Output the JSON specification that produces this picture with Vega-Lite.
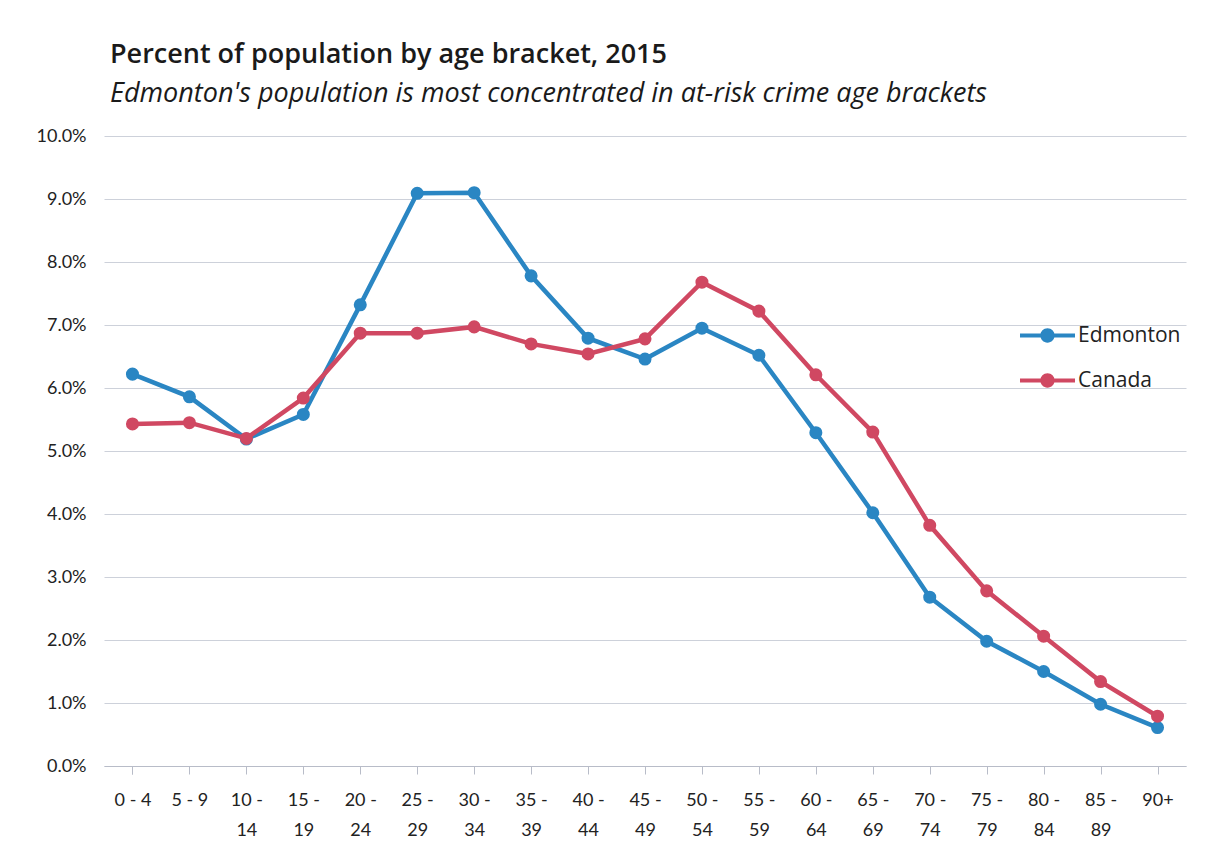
{
  "$schema": "https://vega.github.io/schema/vega-lite/v6.json",
  "autosize": {"type": "none"},
  "width": 1082,
  "height": 630,
  "padding": {"left": 104, "top": 136, "right": 26, "bottom": 86},
  "background": "white",
  "config": {
    "font": "Lato",
    "view": {"stroke": null}
  },
  "title": {
    "text": "Percent of population by age bracket, 2015",
    "subtitle": "Edmonton's population is  most concentrated in at-risk crime age brackets",
    "anchor": "start",
    "frame": "group",
    "dx": 6,
    "offset": 19,
    "font": "Open Sans",
    "fontSize": 27,
    "fontWeight": 600,
    "color": "#1a1a1a",
    "subtitleFont": "Open Sans",
    "subtitleFontSize": 27,
    "subtitleFontStyle": "italic",
    "subtitleColor": "#1a1a1a",
    "subtitlePadding": 12
  },
  "data": {
    "values": [
      {"age": "0 - 4", "region": "Edmonton", "share": 0.0622},
      {"age": "5 - 9", "region": "Edmonton", "share": 0.0586},
      {"age": "10 - 14", "region": "Edmonton", "share": 0.0519},
      {"age": "15 - 19", "region": "Edmonton", "share": 0.0558},
      {"age": "20 - 24", "region": "Edmonton", "share": 0.0732},
      {"age": "25 - 29", "region": "Edmonton", "share": 0.0909},
      {"age": "30 - 34", "region": "Edmonton", "share": 0.0910},
      {"age": "35 - 39", "region": "Edmonton", "share": 0.0778},
      {"age": "40 - 44", "region": "Edmonton", "share": 0.0679},
      {"age": "45 - 49", "region": "Edmonton", "share": 0.0646},
      {"age": "50 - 54", "region": "Edmonton", "share": 0.0695},
      {"age": "55 - 59", "region": "Edmonton", "share": 0.0652},
      {"age": "60 - 64", "region": "Edmonton", "share": 0.0529},
      {"age": "65 - 69", "region": "Edmonton", "share": 0.0402},
      {"age": "70 - 74", "region": "Edmonton", "share": 0.0268},
      {"age": "75 - 79", "region": "Edmonton", "share": 0.0198},
      {"age": "80 - 84", "region": "Edmonton", "share": 0.0150},
      {"age": "85 - 89", "region": "Edmonton", "share": 0.0098},
      {"age": "90+", "region": "Edmonton", "share": 0.0061},
      {"age": "0 - 4", "region": "Canada", "share": 0.0543},
      {"age": "5 - 9", "region": "Canada", "share": 0.0545},
      {"age": "10 - 14", "region": "Canada", "share": 0.0520},
      {"age": "15 - 19", "region": "Canada", "share": 0.0584},
      {"age": "20 - 24", "region": "Canada", "share": 0.0687},
      {"age": "25 - 29", "region": "Canada", "share": 0.0687},
      {"age": "30 - 34", "region": "Canada", "share": 0.0697},
      {"age": "35 - 39", "region": "Canada", "share": 0.0670},
      {"age": "40 - 44", "region": "Canada", "share": 0.0654},
      {"age": "45 - 49", "region": "Canada", "share": 0.0678},
      {"age": "50 - 54", "region": "Canada", "share": 0.0768},
      {"age": "55 - 59", "region": "Canada", "share": 0.0722},
      {"age": "60 - 64", "region": "Canada", "share": 0.0621},
      {"age": "65 - 69", "region": "Canada", "share": 0.0530},
      {"age": "70 - 74", "region": "Canada", "share": 0.0382},
      {"age": "75 - 79", "region": "Canada", "share": 0.0278},
      {"age": "80 - 84", "region": "Canada", "share": 0.0206},
      {"age": "85 - 89", "region": "Canada", "share": 0.0134},
      {"age": "90+", "region": "Canada", "share": 0.0079}
    ]
  },
  "encoding": {
    "x": {
      "field": "age",
      "type": "nominal",
      "sort": null,
      "scale": {"type": "point", "padding": 0.5},
      "axis": {
        "title": null,
        "labelAngle": 0,
        "labelFont": "Lato",
        "labelFontSize": 18,
        "labelColor": "#222222",
        "labelPadding": 17,
        "labelLineHeight": 30,
        "labelBaseline": "top",
        "labelExpr": "indexof(datum.label, ' - ') > 0 && length(datum.label) > 5 ? [split(datum.label, ' - ')[0] + ' -', split(datum.label, ' - ')[1]] : datum.label",
        "domainColor": "#b8bcc8",
        "domainWidth": 1,
        "ticks": true,
        "tickBand": "extent",
        "tickColor": "#b8bcc8",
        "tickSize": 8,
        "grid": false
      }
    },
    "y": {
      "field": "share",
      "type": "quantitative",
      "scale": {"domain": [0, 0.1], "nice": false},
      "axis": {
        "title": null,
        "format": ".1%",
        "values": [0, 0.01, 0.02, 0.03, 0.04, 0.05, 0.06, 0.07, 0.08, 0.09, 0.1],
        "labelFont": "Lato",
        "labelFontSize": 18,
        "labelColor": "#222222",
        "labelPadding": 18,
        "domain": false,
        "ticks": false,
        "tickSize": 0,
        "grid": true,
        "gridColor": "#cdd1da",
        "gridWidth": 1
      }
    },
    "color": {
      "field": "region",
      "type": "nominal",
      "scale": {"domain": ["Edmonton", "Canada"], "range": ["#2a86c3", "#d04862"]},
      "legend": {
        "title": null,
        "orient": "none",
        "legendX": 916,
        "legendY": 172,
        "symbolType": "M-1,-0.075H1V0.075H-1Z M-0.26,0A0.26,0.26 0 1,1 0.26,0A0.26,0.26 0 1,1 -0.26,0Z",
        "symbolSize": 3025,
        "symbolStrokeWidth": 0,
        "labelFont": "Open Sans",
        "labelFontSize": 21,
        "labelColor": "#222222",
        "labelOffset": 3,
        "rowPadding": 7
      }
    }
  },
  "layer": [
    {"mark": {"type": "line", "strokeWidth": 4.5}},
    {"mark": {"type": "point", "filled": true, "size": 170, "opacity": 1}}
  ]
}
